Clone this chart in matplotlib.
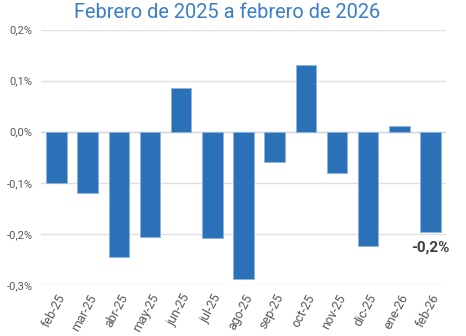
import matplotlib.pyplot as plt
from matplotlib.ticker import FuncFormatter

meses = ['feb-25', 'mar-25', 'abr-25', 'may-25', 'jun-25', 'jul-25', 'ago-25',
         'sep-25', 'oct-25', 'nov-25', 'dic-25', 'ene-26', 'feb-26']
variacion = [-0.100, -0.120, -0.245, -0.206, 0.085, -0.208, -0.288,
             -0.060, 0.130, -0.081, -0.223, 0.011, -0.197]
etiqueta_final = '-0,2%'

plt.rcParams['font.family'] = ['Roboto', 'DejaVu Sans']

fig = plt.figure(figsize=(4.66, 3.36), dpi=100)
ax = fig.add_axes([0.088, 0.152, 0.869, 0.760])

x = list(range(len(meses)))
ax.bar(x, variacion, width=0.66, color='#2A71B8', edgecolor='#8DB4E2', linewidth=0.6, zorder=3)

ax.set_ylim(-0.3, 0.2)
ax.set_xlim(-0.5, len(meses) - 0.5)
ax.set_yticks([-0.3, -0.2, -0.1, 0.0, 0.1, 0.2])
ax.yaxis.set_major_formatter(FuncFormatter(lambda v, p: ('%.1f%%' % v).replace('.', ',').replace('-0,0', '0,0')))
ax.grid(axis='y', color='#E0E0E0', linewidth=1, zorder=0)
ax.axhline(0, color='#D9D9D9', linewidth=1, zorder=2)
for s in ax.spines.values():
    s.set_visible(False)
ax.tick_params(axis='y', length=0, labelsize=8, labelcolor='#595959', pad=6)
ax.tick_params(axis='x', length=0, labelsize=9, labelcolor='#595959', pad=5)
ax.set_xticks(x)
ax.set_xticklabels(meses, rotation=62, ha='right', rotation_mode='anchor')

ax.annotate(etiqueta_final, (x[-1], variacion[-1]), xytext=(0, -6), textcoords='offset points',
            ha='center', va='top', fontsize=11, fontweight='bold', color='#404040')

fig.text(0.487, 0.962, 'Febrero de 2025 a febrero de 2026', ha='center', va='center',
         fontsize=14.4, color='#3A7DC9')

fig.savefig('out.png', dpi=100)
